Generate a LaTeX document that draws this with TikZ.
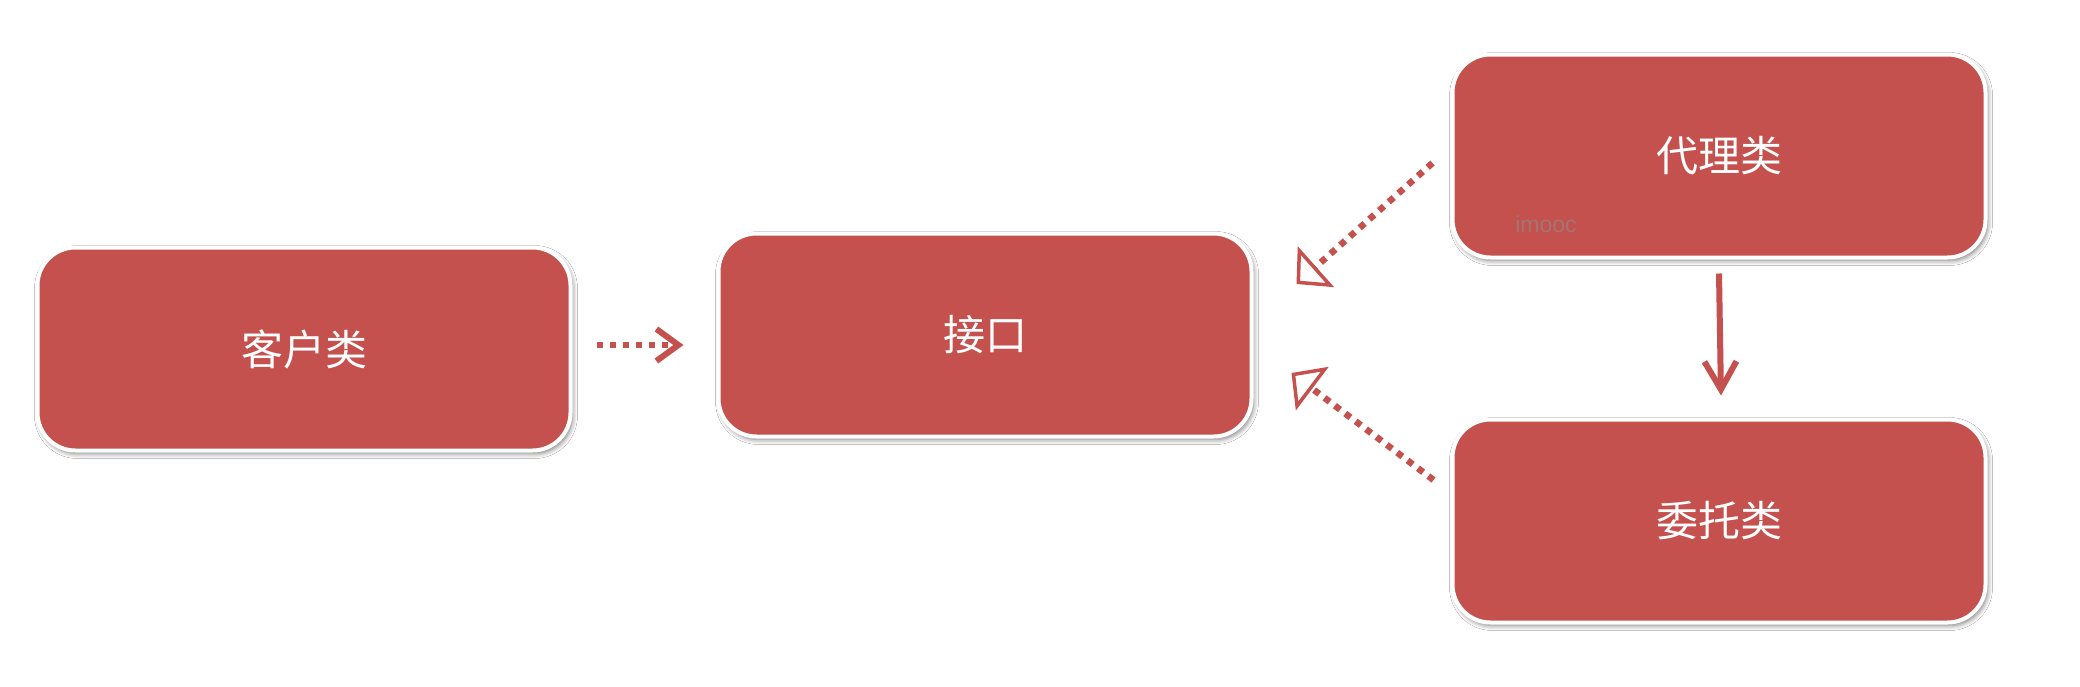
\documentclass[tikz,border=0pt]{standalone}
\usepackage{fontspec}
\newfontfamily\cjk{Noto Sans CJK SC}
\setsansfont{Liberation Sans}
\usetikzlibrary{arrows.meta,shadows.blur,calc}
\definecolor{boxred}{HTML}{C4514D}
\definecolor{wm}{HTML}{9A7E7E}
\tikzset{
  box/.style={draw=white, line width=4pt, fill=boxred, rounded corners=38pt,
    minimum width=533pt, minimum height=203pt, text=white,
    font=\cjk\fontsize{42pt}{50pt}\selectfont,
    blur shadow={shadow xshift=2pt, shadow yshift=-3pt, shadow blur radius=5pt, shadow opacity=55}},
  dotline/.style={draw=boxred, line width=6.5pt, dash pattern=on 6.5pt off 6.5pt},
  chev/.style={-{Straight Barb[length=22pt,width=32pt,line width=6pt]}},
  opentri/.style={-{Triangle[open,length=26pt,width=54pt,line width=3.5pt,fill=white]}},
  solidarrow/.style={draw=boxred, line width=6pt, -{Straight Barb[length=28pt,width=32pt,line width=6pt]}}
}
\begin{document}
\begin{tikzpicture}[x=1pt,y=1pt]
\useasboundingbox[fill=white] (0,0) rectangle (2080,-686);
\node[box] (k) at (304,-349) {客户类};
\node[box] (i) at (985,-335) {接口};
\node[box] (p) at (1719,-156) {代理类};
\node[box] (d) at (1719,-521) {委托类};
\node[font=\sffamily\fontsize{23pt}{26pt}\selectfont, text=wm, opacity=0.8] (w) at (1546,-224) {imooc};
\draw[dotline, chev] ([xshift=24pt,yshift=4pt]k.east) -- ([xshift=-33pt,yshift=-10pt]i.west);
\draw[dotline, opentri] ([xshift=-18pt,yshift=-7pt]p.west) -- ([xshift=43pt,yshift=51pt]i.east);
\draw[dotline, opentri] ([xshift=-17pt,yshift=41pt]d.west) -- ([xshift=38pt,yshift=-38pt]i.east);
\draw[solidarrow] ([yshift=-14pt]p.south) -- ([xshift=2pt,yshift=22pt]d.north);
\end{tikzpicture}
\end{document}
